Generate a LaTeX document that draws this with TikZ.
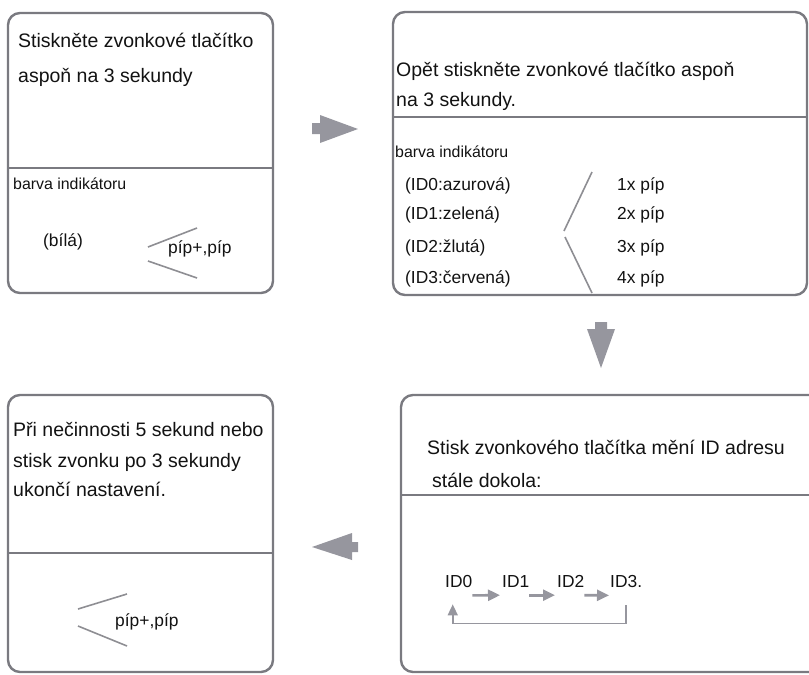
\documentclass[tikz,border=0pt]{standalone}
\usepackage{fontspec}
\setmainfont{Liberation Sans}
\usepackage{tikz}
\usetikzlibrary{calc,arrows.meta}

\definecolor{boxgray}{RGB}{122,122,128}
\definecolor{arrowgray}{RGB}{150,150,158}
\definecolor{txt}{RGB}{18,18,18}

\begin{document}
\begin{tikzpicture}
[x=1pt,y=-1pt,
 panel/.style={draw=boxgray,line width=2.4pt,rounded corners=12pt},
 divider/.style={draw=boxgray,line width=2pt},
 bigtext/.style={anchor=base west,inner sep=0pt,font=\fontsize{19.5}{23}\selectfont,text=txt},
 midtext/.style={anchor=base west,inner sep=0pt,font=\fontsize{17.4}{21}\selectfont,text=txt},
 smalltext/.style={anchor=base west,inner sep=0pt,font=\fontsize{15.9}{19}\selectfont,text=txt},
 brace/.style={draw=boxgray!85,line width=1.6pt},
 blockarrow/.style={fill=arrowgray,draw=none},
 steparrow/.style={draw=arrowgray,line width=2.6pt,-{Triangle[length=12pt,width=11pt]}},
 looparrow/.style={draw=arrowgray,line width=1.6pt,-{Triangle[length=11pt,width=10pt]}}]
\useasboundingbox (0,0) rectangle (809,675);

% panels
\draw[panel] (8,13) rectangle (273,293);
\draw[divider] (8,168) -- (273,168);
\draw[panel] (393,12) rectangle (807,295);
\draw[divider] (393,117) -- (807,117);
\draw[panel] (809,395) -- (401,395) -- (401,672) -- (809,672);
\draw[divider] (401,495) -- (809,495);
\draw[panel] (8,395) rectangle (273,672);
\draw[divider] (8,553) -- (273,553);

% first step
\node[bigtext](a1) at (18,47) {Stiskněte zvonkové tlačítko};
\node[bigtext](a2) at (18,82) {aspoň na 3 sekundy};
\node[smalltext](abarva) at (13,189) {barva indikátoru};
\node[midtext](abila) at (43,246) {(bílá)};
\node[midtext](apip) at (168,253) {píp+,píp};
\draw[brace] (197,228) -- (148,247);
\draw[brace] (148,261) -- (197,278);

% second step
\node[bigtext](b1) at (396,76) {Opět stiskněte zvonkové tlačítko aspoň};
\node[bigtext](b2) at (396,106) {na 3 sekundy.};
\node[smalltext](bbarva) at (395,157) {barva indikátoru};
\node[midtext](col0) at (405,190) {(ID0:azurová)};
\node[midtext](col1) at (405,219) {(ID1:zelená)};
\node[midtext](col2) at (405,252) {(ID2:žlutá)};
\node[midtext](col3) at (405,283) {(ID3:červená)};
\node[midtext](pip1) at (617,190) {1x píp};
\node[midtext](pip2) at (617,219) {2x píp};
\node[midtext](pip3) at (617,252) {3x píp};
\node[midtext](pip4) at (617,283) {4x píp};
\draw[brace] (592,172) -- (564,231);
\draw[brace] (565,237) -- (592,293);

% third step
\node[bigtext](c1) at (427,454) {Stisk zvonkového tlačítka mění ID adresu};
\node[bigtext](c2) at (432,487) {stále dokola:};
\node[midtext](id0) at (445,587) {ID0};
\node[midtext](id1) at (502,587) {ID1};
\node[midtext](id2) at (557,587) {ID2};
\node[midtext](id3) at (610,587) {ID3.};
\draw[steparrow] ($(id0.south east)+(0,8)$) -- ($(id1.south west)+(-2,8)$);
\draw[steparrow] ($(id1.south east)+(0,8)$) -- ($(id2.south west)+(-2,8)$);
\draw[steparrow] ($(id2.south east)+(0,8)$) -- ($(id3.south west)+(-1,8)$);
\draw[looparrow] ($(id3.south)+(0,18)$) -- ($(id3.south)+(0,36)$) -| ($(id0.south)+(-6,17)$);

% last step
\node[bigtext](d1) at (13,436) {Při nečinnosti 5 sekund nebo};
\node[bigtext](d2) at (13,467) {stisk zvonku po 3 sekundy};
\node[bigtext](d3) at (13,496) {ukončí nastavení.};
\node[midtext](dpip) at (115,626) {píp+,píp};
\draw[brace] (127,594) -- (78,609);
\draw[brace] (78,626) -- (127,646);

% block arrows between the steps
\fill[blockarrow] (312,123) -- (320,123) -- (320,115) -- (358,129) -- (320,143) -- (320,134) -- (312,134) -- cycle;
\fill[blockarrow] (595,322) -- (607,322) -- (607,329) -- (615,329) -- (601,368) -- (587,329) -- (595,329) -- cycle;
\fill[blockarrow] (358,542) -- (352,542) -- (352,533) -- (312,547) -- (352,560) -- (352,552) -- (358,552) -- cycle;

\end{tikzpicture}
\end{document}
